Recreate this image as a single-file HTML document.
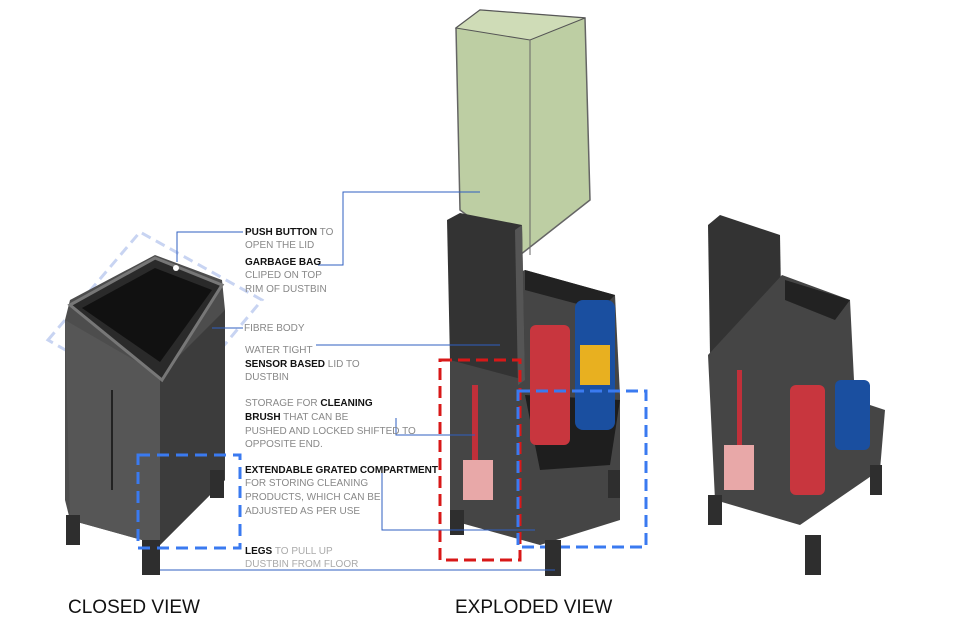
<!DOCTYPE html>
<html><head><style>
body{margin:0;background:#fff;}
svg{display:block;font-family:"Liberation Sans",sans-serif;}
.b{fill:#111;font-weight:bold}
.g{fill:#888}
t{}
</style></head><body>
<svg width="960" height="622" viewBox="0 0 960 622" xmlns="http://www.w3.org/2000/svg">
<!-- LEFT CLOSED BIN -->
<polygon points="48,340 140,232 262,300 170,410" fill="none" stroke="#c8d4f2" stroke-width="3" stroke-dasharray="10,6"/>
<polygon points="65,320 70,300 155,255 222,280 225,310 225,480 160,545 70,520 65,500" fill="#4d4d4d"/>
<polygon points="65,320 160,375 160,545 70,520" fill="#565656"/>
<polygon points="160,375 225,310 225,480 160,545" fill="#3c3c3c"/>
<polygon points="70,305 155,258 222,285 162,380" fill="#2a2a2a" stroke="#777" stroke-width="3"/>
<polygon points="82,308 155,268 212,290 160,362" fill="#111"/>
<circle cx="176" cy="268" r="3" fill="#fff"/>
<line x1="112" y1="390" x2="112" y2="490" stroke="#222" stroke-width="2"/>
<rect x="66" y="515" width="14" height="30" fill="#2e2e2e"/>
<rect x="142" y="540" width="18" height="35" fill="#2e2e2e"/>
<rect x="210" y="470" width="14" height="28" fill="#2e2e2e"/>
<polygon points="138,455 240,455 240,548 138,548" fill="none" stroke="#3a7af0" stroke-width="3" stroke-dasharray="12,7"/>
<!-- EXPLODED: bag -->
<polygon points="456,28 480,10 585,18 590,200 520,255 460,210" fill="#b6c99a" stroke="#555" stroke-width="1.5" opacity="0.9"/>
<polygon points="456,28 530,40 585,18 480,10" fill="#cfdcb7" stroke="#555"/>
<line x1="530" y1="40" x2="530" y2="255" stroke="#666"/>
<!-- body -->
<polygon points="450,300 525,270 615,295 620,395 620,520 540,545 450,520" fill="#454545"/>
<polygon points="525,270 615,295 600,310 525,290" fill="#222"/>
<polygon points="525,395 620,400 610,465 540,470" fill="#1e1e1e"/>
<polygon points="447,220 460,213 522,225 525,380 450,360" fill="#333"/>
<polygon points="522,225 525,380 518,385 515,230" fill="#555"/>
<rect x="530" y="325" width="40" height="120" rx="6" fill="#c8363e"/>
<rect x="575" y="300" width="40" height="130" rx="8" fill="#1a4fa0"/>
<rect x="580" y="345" width="30" height="40" fill="#e8b020"/>
<rect x="472" y="385" width="6" height="80" fill="#c0303a"/>
<rect x="463" y="460" width="30" height="40" fill="#e8a8a8"/>
<rect x="440" y="360" width="80" height="200" fill="none" stroke="#d81818" stroke-width="3" stroke-dasharray="12,6"/>
<rect x="518" y="391" width="128" height="156" fill="none" stroke="#3a7af0" stroke-width="3" stroke-dasharray="12,6"/>
<rect x="450" y="510" width="14" height="25" fill="#2e2e2e"/>
<rect x="545" y="540" width="16" height="36" fill="#2e2e2e"/>
<rect x="608" y="470" width="12" height="28" fill="#2e2e2e"/>
<!-- RIGHT BIN -->
<polygon points="708,225 720,215 780,235 782,350 710,355" fill="#333"/>
<polygon points="708,355 782,275 850,300 855,400 885,410 880,470 800,525 715,500" fill="#454545"/>
<polygon points="785,280 850,300 835,320 785,300" fill="#222"/>
<rect x="790" y="385" width="35" height="110" rx="6" fill="#c8363e"/>
<rect x="835" y="380" width="35" height="70" rx="6" fill="#1a4fa0"/>
<rect x="737" y="370" width="5" height="80" fill="#c0303a"/>
<rect x="724" y="445" width="30" height="45" fill="#e8a8a8"/>
<rect x="708" y="495" width="14" height="30" fill="#2e2e2e"/>
<rect x="805" y="535" width="16" height="40" fill="#2e2e2e"/>
<rect x="870" y="465" width="12" height="30" fill="#2e2e2e"/>
<!-- connectors -->
<g stroke="#2f5fc0" stroke-width="1" fill="none">
<polyline points="243,232 177,232 177,262"/>
<polyline points="318,265 343,265 343,192 480,192"/>
<polyline points="243,328 212,328"/>
<polyline points="316,345 500,345"/>
<polyline points="396,418 396,435 475,435"/>
<polyline points="382,472 382,530 535,530"/>
<polyline points="160,570 555,570"/>
</g>
<!-- labels -->
<g font-size="10">
<text x="245" y="235"><tspan class="b">PUSH BUTTON</tspan><tspan class="g"> TO</tspan></text>
<text x="245" y="248" class="g">OPEN THE LID</text>
<text x="245" y="265" class="b">GARBAGE BAG</text>
<text x="245" y="278" class="g">CLIPED ON TOP</text>
<text x="245" y="292" class="g">RIM OF DUSTBIN</text>
<text x="244" y="331" class="g">FIBRE BODY</text>
<text x="245" y="353" class="g">WATER TIGHT</text>
<text x="245" y="367"><tspan class="b">SENSOR BASED</tspan><tspan class="g"> LID TO</tspan></text>
<text x="245" y="380" class="g">DUSTBIN</text>
<text x="245" y="406"><tspan class="g">STORAGE FOR </tspan><tspan class="b">CLEANING</tspan></text>
<text x="245" y="420"><tspan class="b">BRUSH</tspan><tspan class="g"> THAT CAN BE</tspan></text>
<text x="245" y="434" class="g">PUSHED AND LOCKED SHIFTED TO</text>
<text x="245" y="447" class="g">OPPOSITE END.</text>
<text x="245" y="473" class="b">EXTENDABLE GRATED COMPARTMENT</text>
<text x="245" y="486" class="g">FOR STORING CLEANING</text>
<text x="245" y="500" class="g">PRODUCTS, WHICH CAN BE</text>
<text x="245" y="514" class="g">ADJUSTED AS PER USE</text>
<text x="245" y="554"><tspan class="b">LEGS</tspan><tspan fill="#aaa"> TO PULL UP</tspan></text>
<text x="245" y="567" fill="#aaa">DUSTBIN FROM FLOOR</text>
</g>
<text x="68" y="613" font-size="19" fill="#111">CLOSED VIEW</text>
<text x="455" y="613" font-size="19" fill="#111">EXPLODED VIEW</text>
</svg>
</body></html>
